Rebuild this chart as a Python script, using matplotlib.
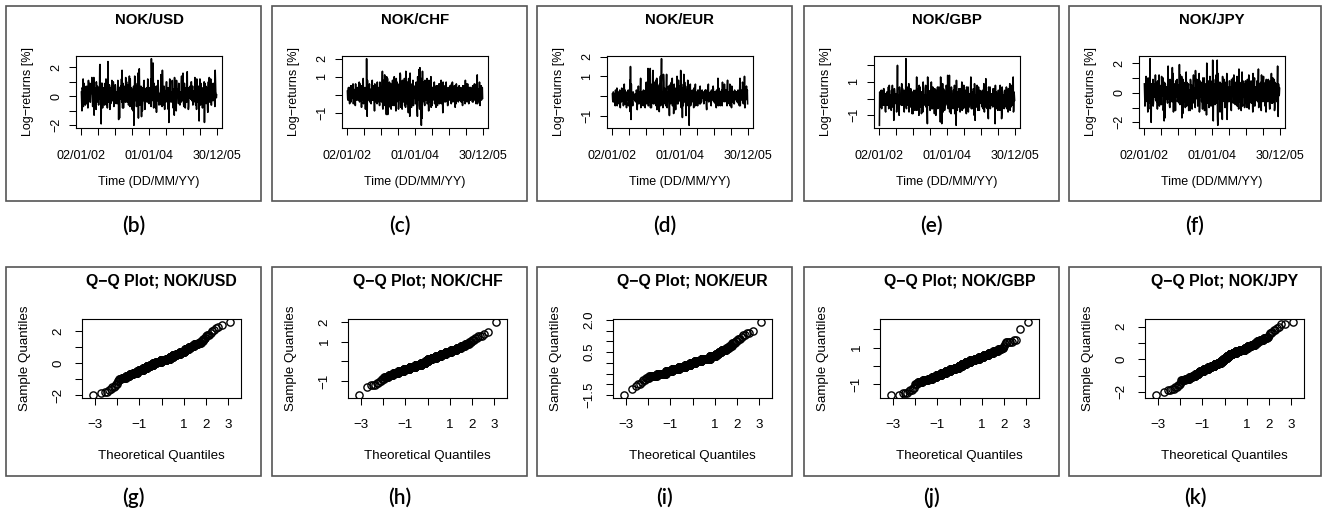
import numpy as np
import matplotlib
matplotlib.use("Agg")
import matplotlib.pyplot as plt
from matplotlib.patches import Rectangle
from statistics import NormalDist

plt.rcParams['font.family'] = ['Liberation Sans', 'DejaVu Sans']

# ---------------- data (daily log-returns in %, read/estimated from the picture) ----------------
pairs = ['NOK/USD', 'NOK/CHF', 'NOK/EUR', 'NOK/GBP', 'NOK/JPY']
top_captions = ['(b)', '(c)', '(d)', '(e)', '(f)']
bottom_captions = ['(g)', '(h)', '(i)', '(j)', '(k)']
date_labels = ['02/01/02', '', '', '', '01/01/04', '', '', '', '30/12/05']

usd = [
    0.3, -0.4, -1.0, 0.6, 0.5, -0.2, 1.2, -0.7, -0.3, 0.9, 0.1, -0.3, 0.7, -0.1, -0.6, 0.5, 0.2, -0.5, 0.0, 0.7, -0.2, 0.4, 0.4, -0.8, -0.1, 1.1, 0.1, -0.2, 0.6, 0.0, 0.9, -0.4, -0.4, 0.2, 0.2, 0.3, 0.3, 1.3, 1.0, 0.1,
    -0.7, 0.5, 0.3, -0.3, 1.3, -1.3, -0.2, 0.6, 0.1, 0.2, 0.5, -0.1, -0.9, 1.0, 0.4, -0.4, 0.0, 0.7, -0.3, 0.1, 0.6, -0.6, 0.2, 0.3, -0.1, 2.1, 2.2, -0.2, 0.2, 0.4, -1.9, 0.9, 0.7, 0.0, 0.9, -0.8, -0.4, 0.2, 0.1, 0.6,
    0.1, -0.2, -0.6, 0.4, 0.9, 0.0, 0.4, 1.2, -0.1, -0.6, 0.2, 0.5, -0.8, 0.3, 2.4, -0.4, 0.3, 0.1, -0.4, 0.8, 0.7, -0.9, 0.0, 0.2, -0.5, 0.6, 0.5, -0.1, 1.1, -0.3, -0.3, 0.7, 0.2, 1.0, 0.6, -0.7, -0.2, 0.2, 0.1, 0.1,
    0.8, 0.6, -0.2, -0.5, 0.3, 0.2, 0.1, -0.3, -0.5, 1.1, 0.0, 0.4, -1.6, 0.1, 0.4, -1.5, 0.6, -0.2, -0.1, 0.7, 0.2, 0.0, 1.2, -0.4, 1.8, 0.3, -0.8, 0.9, 0.5, -0.8, -0.3, 0.5, 0.1, 0.2, 0.7, -0.1, -0.4, 1.3, 0.2, 0.1,
    1.0, -0.3, -0.4, 0.8, 0.2, 0.1, 0.6, -0.6, -0.2, 0.5, 1.4, 0.2, -0.7, 1.2, 0.3, -0.4, 0.0, 0.6, 0.5, -0.1, -0.9, 0.3, 0.1, -1.0, 0.2, 0.7, -2.0, 0.0, 0.4, 1.4, -0.3, -0.2, 0.9, 0.4, 0.7, -0.7, -0.1, 0.2, 0.3, 0.1,
    1.6, 0.3, -1.5, -0.2, 0.3, 1.9, 0.7, -0.6, -0.1, 0.1, 0.5, 0.7, -0.6, -1.4, 0.2, 0.4, -1.0, 0.0, 0.6, -0.3, 0.0, 1.0, 1.1, 0.2, -0.4, -0.9, 0.4, 0.5, -0.3, -0.1, 0.1, 0.6, 0.2, -0.4, -0.2, 1.2, 0.9, 0.2, 0.1, 0.1,
    -0.5, 0.6, 0.4, -0.4, 0.2, 0.1, 1.2, -0.7, 2.6, 0.5, -0.3, 2.0, 0.1, -0.2, 2.3, 0.3, -0.8, 0.9, 0.6, -0.1, 0.3, 0.0, -0.1, -0.8, 0.5, 0.7, -1.1, 0.2, 0.7, -0.3, 0.0, 1.1, 0.9, 0.4, -0.2, -0.6, 0.2, 0.2, -0.4, 0.1,
    -0.3, 0.2, 1.5, -0.6, 0.1, 0.5, -0.7, 1.8, 0.7, -0.2, 0.3, 0.4, -0.6, 0.7, 0.0, -0.9, 0.4, 0.1, -0.2, -0.4, 0.6, 1.0, 1.0, 0.0, 0.2, -0.1, 0.5, 0.6, -0.9, 0.3, -1.8, -0.7, 0.8, 1.2, 0.1, 0.2, 0.3, -0.3, -0.4, 0.1,
    0.3, -0.1, 1.1, 0.7, -0.6, -0.8, 0.5, 0.2, 0.1, -1.3, 1.3, 0.6, -0.2, 0.4, 0.6, -0.3, -1.0, 1.1, 0.4, 0.0, 0.0, 0.5, 0.2, -0.2, -0.5, 0.9, 0.7, 0.1, 0.2, -0.6, -0.4, 0.3, 0.3, -0.4, 0.9, 1.4, -0.1, 0.2, -0.3, 0.1,
    1.6, 0.4, -0.5, -0.7, 0.2, 0.9, 0.4, 0.1, -0.8, -0.2, 0.1, 0.6, 0.0, -0.4, 1.5, 1.7, -0.3, 0.2, 0.6, -0.9, -0.7, 0.3, 0.3, -0.1, 0.5, 0.7, 0.2, 0.0, -0.2, 1.0, 1.0, -0.3, -0.1, 0.5, 0.7, -0.6, 0.1, 0.2, -0.4, 0.1,
    0.4, -0.2, 1.3, 0.5, -0.1, -0.6, 0.7, 0.3, -0.9, 1.2, 0.2, -0.4, 0.6, 0.1, -0.4, 0.7, 0.5, -1.7, 0.1, 0.2, 1.2, -0.1, -0.6, 0.9, 0.3, 0.0, 0.0, 0.6, -0.3, -0.8, 0.2, 0.4, -0.7, -0.3, 0.1, 1.0, -1.8, 0.2, 0.9, 0.1,
    0.2, 0.7, -0.5, -0.3, 0.6, 0.2, 0.4, -0.9, -1.1, 0.5, 1.0, 0.1, 0.0, 1.3, -0.2, -0.4, 0.7, 0.0, 1.2, 0.6, -0.6, -0.6, 0.3, 0.3, 0.5, -0.1, -0.3, 0.9, 0.1, -0.2, 0.2, 0.4, -0.4, -0.7, 1.8, 1.1, 0.3, 0.2, -0.1, 0.1,
]

chf = [
    0.2, -0.2, -0.3, 0.3, 0.4, -0.1, 0.1, -0.3, -0.5, 0.4, 0.0, 0.2, 0.5, -0.4, -0.2, 0.5, 0.3, -0.2, -0.1, 0.1, 0.6, -0.5, -0.4, 0.3, 0.1, -0.1, 0.2, 0.0, -0.6, 0.6, 0.0, -0.2, 0.3, -0.3, -0.1, 0.2, 0.4, -0.1, -0.3, 0.1,
    0.1, -0.3, 0.7, -0.4, -0.2, 0.6, 0.0, -0.1, 0.5, -0.2, -0.7, 0.5, 0.2, -0.3, -0.1, 0.2, 0.9, -0.5, -0.4, 0.4, 0.3, -0.1, 0.1, -0.2, -0.8, 0.3, 0.4, -0.6, 2.0, -0.1, -1.2, 0.8, 0.0, 0.2, 0.2, -0.2, -0.3, 0.1, 0.6, -0.4,
    -0.1, 0.2, 0.3, -0.4, -0.5, 0.3, 0.2, -0.1, 0.8, -0.3, 0.0, 0.1, -0.3, 0.5, 0.4, -0.2, -0.9, 0.6, 0.1, -0.1, 0.5, -0.4, -0.2, 0.2, 0.2, -0.5, 0.7, -0.2, -0.4, 0.4, 0.0, 0.1, 0.3, -0.2, -0.6, 0.7, 0.1, 0.0, 0.4, -0.3,
    0.2, -0.4, -0.2, 0.6, 1.3, -0.7, -0.8, 0.8, 0.4, -0.2, 0.0, 0.3, 1.1, -0.6, -0.5, 0.4, 0.3, -0.5, -1.1, 1.0, 0.1, -0.3, 0.9, -1.1, -0.3, 0.2, 0.5, -0.4, -0.1, 0.7, 0.2, -0.1, -0.7, 0.5, 0.6, -0.8, 0.0, 0.1, -0.4, 0.3,
    0.8, -0.5, -0.6, 0.7, 0.3, -0.3, 1.0, -0.6, -0.2, 0.4, 0.1, -0.2, -0.9, 0.9, 0.4, -0.4, 0.7, -0.1, -0.1, 0.5, 0.2, -0.8, -0.5, 0.6, 0.5, -0.3, 0.0, 1.2, 1.1, -0.7, -0.3, 0.2, 0.3, -0.2, -0.8, 0.8, 0.1, -0.1, 0.6, -0.4,
    -0.2, 0.3, 0.9, -0.6, 0.0, 0.5, -0.7, 1.3, 0.4, -0.3, 0.2, -0.5, -0.4, 0.7, 0.6, -0.2, -1.0, 0.9, 0.1, -0.4, 0.3, -1.2, 1.2, -0.3, -0.3, 0.4, 0.5, -0.7, -0.1, 0.6, 0.0, 0.1, 0.8, -0.4, -0.6, 0.5, 0.2, -0.2, -0.2, 0.2,
    0.4, -0.5, -0.5, 0.6, 0.7, -0.4, 0.1, -0.8, -1.2, 1.0, 0.3, -0.3, -0.1, 0.5, 1.4, -0.6, -0.8, 1.5, 0.2, -0.2, 0.5, -0.7, -1.7, 0.9, 0.0, -1.3, 1.3, -0.4, -0.3, 0.7, 0.6, -0.2, 0.1, -0.5, -0.6, 0.8, 0.3, -0.3, -0.2, 0.4,
    0.2, -0.3, 0.9, -0.5, -0.4, 0.6, 0.1, -0.2, -0.9, 0.8, 0.5, -0.4, 0.0, 0.3, -0.2, 0.5, 1.0, -0.7, 0.3, -0.1, -0.6, 0.4, 0.4, -0.3, 0.1, 0.2, -0.1, 0.6, 0.7, -0.5, -0.3, 0.3, 0.2, -0.1, -0.7, 0.5, 0.0, -0.2, 0.5, -0.6,
    -0.1, 0.3, 0.3, -0.4, 0.6, -0.2, -0.5, 0.6, 0.2, -0.3, 0.0, 0.2, 0.8, -0.5, -0.3, 0.4, 0.4, -0.1, -1.0, 0.7, 0.1, -0.2, 0.5, -0.4, -0.2, 0.3, 0.2, -0.1, -0.4, 0.5, 0.7, -0.3, 0.0, 0.1, 0.3, -0.6, -0.6, 0.4, 0.1, -0.2,
    0.3, -0.3, -0.2, 0.4, 0.5, -0.2, 0.0, 0.3, -0.5, 0.6, 0.2, -0.4, 0.7, -0.1, -0.1, 0.2, 0.1, -0.3, -0.4, 0.5, 0.4, -0.2, -0.7, 0.3, 0.2, -0.5, 0.6, -0.1, -0.3, 0.4, 0.0, -0.2, 0.3, -0.4, -0.1, 0.1, 0.5, -0.3, -0.2, 0.2,
    0.1, -0.2, 0.4, -0.4, -0.3, 0.3, 0.2, -0.1, -0.6, 0.5, 0.0, -0.3, 0.5, -0.2, -0.1, 0.4, 0.3, -0.5, 0.8, -0.3, -0.4, 0.6, 0.1, -0.1, -0.2, 0.2, 0.6, -0.4, 0.0, 0.3, -0.5, 0.4, 0.2, -0.3, 0.4, -0.2, -0.3, 0.4, 0.1, -0.1,
    -0.2, 0.3, 0.3, -0.4, 0.5, -0.2, -0.4, 0.5, 0.1, -0.3, 0.6, -0.2, -0.1, 0.4, 0.2, -0.3, -0.5, 0.6, 0.4, -0.1, 1.1, -0.5, 0.0, 0.2, -0.3, 0.3, 0.3, -0.4, 0.7, -0.2, -0.6, 0.5, 0.1, -0.1, 0.5, -0.3, -0.2, 0.4, 0.4, -0.2,
]

eur = [
    0.1, -0.2, -0.3, 0.2, 0.2, -0.3, -0.1, 0.1, 0.0, -0.4, -0.5, 0.3, 0.2, -0.1, -0.2, 0.2, 0.4, -0.5, 0.0, 0.1, -0.4, 0.2, 0.1, -0.2, -0.1, 0.1, 0.3, -0.3, -0.6, 0.2, 0.2, -0.1, -0.3, 0.4, 0.0, -0.2, -0.2, 0.0, 0.1, -0.5,
    -0.2, 0.1, 0.6, -0.4, 0.0, 0.3, -0.4, 0.1, 0.1, -0.3, -0.6, 0.2, 0.2, -0.2, -0.1, 0.0, 0.3, -0.5, -0.3, 0.2, 0.0, -0.1, 0.8, -0.8, 1.5, -0.2, -1.2, 0.6, -0.2, 0.1, 0.1, -0.3, -0.5, 0.2, 0.2, -0.1, -0.1, 0.0, 0.0, -0.2,
    0.1, -0.2, -0.3, 0.1, -0.1, 0.3, 0.2, -0.3, -0.7, 0.2, 0.0, -0.1, 0.5, -0.4, -0.2, 0.2, 0.1, -0.2, -0.4, 0.4, 0.9, -0.6, 0.0, 0.1, -0.5, 0.2, 0.2, -0.3, -0.1, 0.0, 0.3, -0.5, -0.3, 0.1, 0.1, -0.2, -0.6, 0.3, 0.0, -0.1,
    0.7, -0.4, -0.2, 0.3, 0.1, -0.3, 1.4, -0.5, -0.5, 0.6, 0.0, -0.2, -0.3, 0.5, 1.4, -0.6, 0.2, -0.1, -0.6, 0.4, 0.6, -0.3, -0.1, 1.2, 1.3, -0.4, 0.1, 0.2, -0.4, 0.7, 0.3, -0.3, -0.2, 0.5, 0.8, -0.5, 0.0, 0.9, -0.7, 0.2,
    -0.1, 0.3, 0.5, -0.4, 0.2, -0.2, -0.8, 0.6, 0.0, -0.3, 1.0, -0.5, -0.3, 0.8, 1.9, -0.4, -0.2, 0.2, 0.1, -0.6, -0.5, 1.1, 0.7, -0.2, 0.0, 0.4, -0.4, 0.1, 0.3, -0.5, -0.1, 0.6, 1.1, -0.3, -0.6, 0.2, 0.2, -0.1, -0.2, 0.5,
    0.2, -0.3, -1.0, 0.5, 0.1, -0.2, 0.6, -0.4, -0.3, 0.7, 0.0, -0.1, 0.9, -0.5, -0.2, 0.3, 0.2, -0.9, -0.5, 0.6, -0.1, 0.2, 0.3, -0.3, -0.7, 0.4, 0.1, -0.2, 0.0, 1.0, -0.4, 0.1, 0.1, -0.4, 0.8, -0.2, -0.2, 0.5, -0.1, 0.0,
    0.2, -0.3, 1.3, -0.4, -0.6, 0.6, 0.0, -0.2, -1.1, 0.4, 0.2, -0.5, -0.2, 1.1, 0.1, -0.3, 0.7, -0.1, -0.3, 0.5, 0.3, -1.0, -0.1, 0.2, 0.0, -0.4, 0.1, 0.8, -0.5, 0.1, 0.2, -0.3, -1.5, 0.4, -0.2, 0.3, 0.6, -0.5, -0.4, 0.1,
    0.1, -0.2, -0.2, 0.3, 0.2, -0.3, 0.0, 0.2, -0.6, 0.4, 0.2, -0.4, -0.1, 0.1, 0.6, -0.5, -0.3, 0.2, 0.0, -0.1, 0.1, -0.3, -0.5, 0.3, 0.3, -0.2, -0.2, 0.0, 0.1, -0.4, 0.0, 0.5, -0.4, 0.1, 0.2, -0.3, -0.1, 0.2, 0.3, -0.1,
    -0.1, 0.2, 0.2, -0.3, -0.4, 0.1, 0.2, -0.2, 0.0, 0.3, -0.2, 0.0, 0.3, -0.5, -0.7, 0.2, 0.1, -0.2, 0.0, 0.4, 0.6, -0.3, -0.3, 0.1, 0.1, -0.1, -0.1, 0.2, 0.1, -0.4, -0.5, 0.3, 0.2, -0.2, 0.0, 0.1, -0.2, 0.5, 0.3, -0.3,
    0.2, -0.1, -0.3, 0.2, 0.0, -0.4, 0.2, 0.0, -0.6, 0.3, 0.1, -0.3, -0.1, 0.1, 0.9, -0.5, -0.2, 0.4, 0.3, -0.2, 0.0, 0.2, -0.5, 0.1, 0.2, -0.3, -0.4, 0.3, 0.1, -0.5, 0.7, -0.2, -0.1, 0.2, 0.0, -0.1, -0.3, 0.6, 0.1, -0.2,
    -0.2, 0.2, 0.3, -0.3, 0.1, -0.1, -0.5, 0.4, 0.8, -0.4, 0.0, 0.2, -0.3, 0.1, 0.2, -0.2, 0.6, -0.5, -0.1, 0.3, 0.0, -0.1, -0.6, 0.5, 0.2, -0.3, 0.1, 0.0, -0.2, 0.2, 0.1, -0.4, -0.4, 0.3, 0.0, -0.2, 0.2, -0.1, -0.1, 0.2,
    0.1, -0.3, 0.2, -0.1, -0.3, 0.3, 0.0, -0.4, 0.2, -0.2, -0.5, 0.4, 0.9, -0.5, -0.1, 0.2, 0.3, -0.2, -0.2, 0.1, 0.0, 0.7, 0.6, -0.3, -0.4, 0.2, 0.1, -0.1, 1.0, -0.6, -0.6, 0.3, 0.2, -0.2, 0.0, 0.5, -0.1, 0.1, 0.3, -0.4,
]

gbp = [
    -1.6, 0.4, 0.3, -0.5, -0.2, 0.3, 0.5, -0.3, -0.6, 0.5, 0.1, -0.2, 0.0, 0.2, -0.4, 0.6, 0.6, -0.4, -0.1, 0.1, 0.2, -0.7, -0.8, 0.3, 0.0, -0.1, 0.4, -0.4, -0.3, 0.2, -0.1, 0.0, 0.7, -0.6, -0.5, 0.8, 0.1, -0.2, -0.2, 0.1,
    0.2, -0.4, -0.7, 0.5, 0.0, -0.2, 0.8, -0.5, -0.3, 0.3, 0.1, -1.3, -0.9, 0.6, 0.4, -0.3, -0.2, 0.1, 0.0, -0.1, 0.3, -0.8, -0.5, 0.4, 2.0, -0.2, -0.1, 0.2, 0.2, -0.5, -1.0, 0.7, 0.5, -0.3, -0.2, 0.0, 0.1, -0.1, -0.4, 0.9,
    0.0, -0.2, 0.6, -0.4, -0.3, 0.4, 0.1, -0.6, -0.8, 0.5, 0.3, -0.3, -0.1, 0.2, 2.4, -0.5, -0.6, 0.3, 0.2, -0.1, 0.0, 0.7, -0.4, 0.1, 0.9, -0.8, -0.2, 0.0, 0.1, -0.3, -0.5, 0.6, 0.4, -0.4, -0.1, 0.2, -0.9, 0.4, 0.2, -0.9,
    -0.3, 0.3, 0.5, -0.6, 0.0, 0.2, -0.7, 0.5, 0.3, -0.4, -0.2, 0.0, 1.3, -0.7, 0.1, 0.3, -0.5, 0.6, 0.2, -0.2, -1.0, 0.8, 0.0, -0.3, 0.7, -0.5, -0.1, 0.1, 0.4, -0.9, -0.4, 0.4, 0.1, -0.2, -0.8, 1.0, 0.6, -0.1, -0.2, 0.2,
    0.1, -0.3, -0.4, 0.6, 0.8, -0.5, -0.1, 0.2, 0.2, -0.8, -1.5, 1.3, 0.0, -0.2, 0.5, -0.4, -0.3, 0.4, 0.3, -0.7, -0.7, 0.5, 0.1, -0.1, 1.0, -0.6, -0.2, 0.3, -0.6, 0.7, 0.4, -0.3, 0.0, 0.1, -0.1, -0.9, 0.6, -0.2, -0.5, 0.2,
    -1.0, 0.5, 0.2, -0.3, -0.3, 0.4, 0.7, -0.6, 0.0, 0.1, -0.5, 0.7, 0.4, -0.2, -0.1, 0.3, -1.4, 1.3, 0.1, -0.4, 0.3, -1.5, -0.2, 0.2, 0.9, -0.5, -0.8, 0.6, 0.0, -0.1, 0.5, -0.7, -0.4, 0.4, 0.2, -0.3, -0.1, 0.8, 0.6, -0.2,
    0.0, -0.4, 1.4, -0.2, -0.6, 0.6, 0.3, -0.5, 1.4, -0.8, -0.3, 0.4, 0.1, -0.3, -0.9, 0.7, 0.5, -0.1, -0.1, 0.3, 0.2, -0.6, -0.5, 0.5, 0.0, -0.2, 0.8, -0.9, -0.2, 0.1, 0.4, -0.3, -1.6, 1.1, 0.1, -0.1, -0.7, 0.4, 0.3, -0.5,
    -0.2, 0.3, 0.6, -0.5, 0.0, 0.2, -0.8, 0.6, 0.2, -0.3, -0.4, 0.4, 1.0, -0.7, -0.1, 0.2, 0.3, -0.4, -0.6, 0.8, 0.1, -0.2, 0.5, -0.5, -0.3, 0.5, 0.0, -0.1, -0.9, 0.7, 0.4, -0.4, -0.1, 0.1, 0.7, -0.8, 0.2, -0.3, -0.5, 0.3,
    0.1, -0.2, -0.3, 0.5, 1.3, -0.4, -0.6, 0.3, 0.0, -0.6, 0.4, -0.1, -0.2, 0.6, 0.2, -0.3, -1.0, 0.9, 0.6, -1.3, -0.1, 0.2, 0.0, -0.5, -0.5, 0.4, 0.8, -0.2, 0.3, -0.7, -0.4, 0.7, 0.1, -0.4, -0.7, 0.3, 0.5, -0.1, -0.2, 0.2,
    0.0, -0.3, 0.4, -0.4, -0.5, 0.5, 0.2, -0.6, -0.1, 0.2, 0.9, -0.2, -0.8, 0.6, 0.1, -0.5, -0.3, 1.2, 0.5, -0.3, 0.0, 0.3, -0.6, 0.4, 0.3, -0.8, -1.2, 0.7, 0.1, -0.2, -0.2, 0.1, 0.7, -0.6, -0.4, 0.3, 0.2, -0.4, -0.1, 0.2,
    0.3, -0.4, -0.5, 0.6, 0.1, -0.3, -0.2, 0.4, 0.6, -0.5, -1.5, 0.8, 0.0, -0.2, 0.4, -0.6, -0.3, 0.3, 0.2, -0.1, -0.7, 0.5, 0.5, -0.4, -0.1, 0.2, 0.0, -0.7, 0.8, -0.3, -0.4, 0.5, 0.1, -1.2, -0.9, 0.7, 0.3, -0.4, -0.2, 0.1,
    0.2, -0.3, -0.6, 0.4, 0.5, -0.5, -0.1, 0.2, 0.0, -0.2, 0.7, -0.6, -0.4, 0.3, 0.1, -0.4, -0.8, 0.6, 0.3, -0.2, -0.2, 0.5, 0.9, -0.7, 0.0, 0.1, -0.5, 0.8, 0.4, -0.4, -0.3, 0.3, 0.6, -0.3, 1.3, -0.8, -0.7, 0.4, 0.2, -0.1,
]

jpy = [
    0.6, -0.3, -0.9, 0.5, 0.2, -0.6, 1.1, -0.2, -0.4, 0.7, 0.0, -0.4, -1.3, 1.0, 0.5, -0.7, -0.2, 0.4, 0.8, -0.1, 2.3, -1.1, -0.6, 0.2, -2.0, 0.6, 0.3, -0.5, -0.1, 0.3, 0.9, -0.9, -0.7, 0.6, 0.1, -0.2, 0.4, -0.1, -0.3, 1.2,
    -0.5, 0.4, 0.7, -0.6, 0.0, 0.3, -1.1, 0.8, 0.4, -0.5, -0.2, 0.2, 1.2, -0.9, -0.6, 0.5, 0.3, -0.3, 0.1, -0.7, -0.8, 1.1, 0.5, -0.2, -0.1, 0.6, 1.0, -1.2, -0.4, 0.1, -1.9, 0.7, 0.2, -1.7, 0.6, -0.1, -0.3, 0.4, 0.0, -0.4,
    0.3, -0.5, -0.7, 0.6, 1.8, -0.4, -0.2, 0.3, 0.5, -0.9, -1.0, 0.9, 0.1, -0.2, 0.8, -0.6, -0.4, 0.5, 0.0, 1.7, -0.6, 0.1, 1.3, -1.3, 0.2, -0.7, -0.3, 0.4, 0.6, -0.1, -1.2, 0.8, 0.4, -0.3, -0.1, 0.2, 0.9, -0.6, -0.5, 0.5,
    -0.2, 0.4, 0.5, -0.7, 1.9, -0.3, -0.8, 1.2, 0.1, -0.6, -0.4, 0.6, 1.1, -1.7, 0.3, -0.2, -1.4, 0.9, 0.0, -0.4, 0.7, -0.1, -0.6, 0.5, 0.2, -1.0, -0.1, 0.3, 1.4, -0.5, -0.9, 0.7, 0.4, -0.2, -0.3, 0.4, 0.6, -1.2, 0.0, 0.1,
    0.2, -0.4, -1.2, 0.9, 0.8, -0.6, -0.3, 0.5, 0.5, -1.1, 0.0, 0.3, -0.7, 0.6, 1.2, -0.5, -0.1, 0.2, 0.3, -0.7, -1.0, 1.5, 0.6, -0.3, -0.4, 0.4, 0.9, -0.2, 0.1, -0.9, -0.6, 0.6, -0.2, 0.1, 1.3, -1.3, -0.8, 0.8, 0.4, -0.1,
    -0.3, 0.5, 0.7, -0.6, 0.1, -0.3, -1.1, 1.0, 0.4, -0.7, -0.5, 0.6, 1.0, -1.2, 0.0, 0.2, -0.2, 0.4, 0.6, -0.4, -1.5, 2.0, 0.3, -0.5, -0.7, 0.6, 0.8, -0.1, 0.2, -1.0, -0.4, 0.3, 1.1, -0.6, -0.1, 0.8, -0.9, 0.2, 0.5, -0.3,
    0.0, -0.5, 2.2, -1.1, -1.9, 0.9, -0.3, 0.4, 0.6, -0.6, -0.8, 0.6, 0.4, -0.2, 1.2, -0.7, -0.5, 0.3, 2.2, -1.6, -2.2, 1.3, 0.3, -0.4, -0.1, 0.5, 0.7, -0.3, -1.3, 0.7, 0.1, -0.1, -0.6, 0.6, 0.5, -0.9, -1.8, 1.1, 0.2, -0.2,
    -0.4, 0.5, 0.9, -0.6, 0.0, 0.2, -1.0, 0.7, 0.5, -0.4, -0.2, 0.6, 1.3, -1.8, -0.7, 0.4, 0.3, -0.3, 0.1, -0.6, -0.6, 0.8, 0.8, -0.5, -0.3, 0.3, 0.4, -1.0, -1.2, 0.9, 0.6, -0.2, -0.1, 0.4, 1.0, -0.7, -0.5, 1.2, 0.2, -0.1,
    0.1, -0.3, -0.8, 0.7, 0.6, -0.5, -0.2, 0.4, 1.1, -0.9, -0.4, 0.6, 0.3, -0.2, -1.1, 1.6, 0.0, -0.6, 0.7, -0.4, -0.6, 0.5, 0.2, -1.2, -0.3, 0.3, 1.4, -0.7, -0.9, 0.8, 0.5, -0.3, -0.1, 0.6, 0.4, -1.0, -0.7, 0.2, 0.8, -0.5,
    -0.2, 0.4, 0.5, -0.6, -1.0, 0.9, 0.3, -0.4, 0.0, 0.6, 1.2, -1.1, -0.6, 0.3, 0.1, -0.3, -0.4, 0.7, 0.8, -0.7, -0.1, 0.5, 0.6, -0.2, -1.3, 1.3, 0.2, -0.5, -0.3, 0.6, 1.0, -0.9, -0.7, 0.2, 0.4, -0.4, 0.0, 0.1, -0.5, 0.8,
    0.3, -0.6, -0.4, 0.5, 1.6, -1.0, -0.8, 0.6, 0.2, -0.3, -0.1, 0.4, 0.7, -0.7, -1.2, 1.2, 0.5, -0.4, 0.0, 0.3, -0.6, 0.8, 1.1, -0.5, -0.3, 0.6, 0.4, -0.2, -0.9, 0.7, 0.1, -1.3, 0.9, -0.4, -0.2, 0.5, 0.6, -0.6, -0.5, 0.9,
    0.0, 0.4, 0.7, -0.6, -1.1, 0.8, 0.3, -0.5, -0.4, 0.6, 1.3, -0.7, 0.1, 0.3, -0.7, 1.0, 0.5, -0.3, -0.2, 0.5, 0.9, -1.2, -1.0, 0.7, 0.2, -0.4, -0.3, 0.2, 0.6, -0.6, -0.5, 0.9, 1.8, -0.9, -1.6, 0.6, 0.4, -0.2, -0.1, 0.3,
]

series = [usd, chf, eur, gbp, jpy]

ts_yticks = [[-2, -1, 0, 1, 2], [-1, 0, 1, 2], [-1, 0, 1, 2], [-1, 0, 1, 2], [-2, -1, 0, 1, 2]]
ts_ylabels = [['\u22122', '', '0', '', '2'], ['\u22121', '', '1', '2'], ['\u22121', '', '1', '2'],
              ['\u22121', '', '1', ''], ['\u22122', '', '0', '', '2']]
qq_yticks = [[-2, -1, 0, 1, 2], [-1, 0, 1, 2], [-1.5, -1.0, -0.5, 0.0, 0.5, 1.0, 1.5, 2.0],
             [-1, 0, 1, 2], [-2, -1, 0, 1, 2]]
qq_ylabels = [['\u22122', '', '0', '', '2'], ['\u22121', '', '1', '2'],
              ['\u22121.5', '', '', '', '0.5', '', '', '2.0'],
              ['\u22121', '', '1', ''], ['\u22122', '', '0', '', '2']]
qq_xticks = [-3, -2, -1, 0, 1, 2, 3]
qq_xlabels = ['\u22123', '', '\u22121', '', '1', '2', '3']

# ---------------- layout (pixels) ----------------
W, H = 1325, 515
DPI = 100
PX = 72.0 / DPI  # points per pixel
panel_left = [6, 272, 537, 804, 1069]
panel_w = [255, 255, 255, 255, 252]

fig = plt.figure(figsize=(W / DPI, H / DPI), dpi=DPI)


def px_axes(x0, y0, x1, y1):
    return fig.add_axes([x0 / W, 1 - y1 / H, (x1 - x0) / W, (y1 - y0) / H])


def box(x0, y0, x1, y1):
    fig.add_artist(Rectangle((x0 / W, 1 - y1 / H), (x1 - x0) / W, (y1 - y0) / H,
                             transform=fig.transFigure, fill=False,
                             ec='#555555', lw=1.2))


def padded(lo, hi):
    p = 0.04 * (hi - lo)
    return lo - p, hi + p


def style_axes(ax, fs, fw, fh, xpad_c, ypad_c, ylab_c, xlab_c, title_c, title, xlabel, ylabel, tfs):
    tick_len = 7
    for s in ax.spines.values():
        s.set_linewidth(0.8)
        s.set_color('black')
    fs_px = fs / PX
    xpad = (xpad_c - tick_len - 0.37 * fs_px) * PX
    ypad = (ypad_c - tick_len - 0.57 * fs_px) * PX
    ax.tick_params(axis='x', direction='out', length=tick_len * PX, width=0.75,
                   labelsize=fs, pad=xpad, colors='black')
    ax.tick_params(axis='y', direction='out', length=tick_len * PX, width=0.75,
                   labelsize=fs, pad=ypad, labelrotation=90, colors='black')
    for t in ax.get_yticklabels():
        t.set_va('center')
    ax.set_xlabel(xlabel, fontsize=fs)
    ax.set_ylabel(ylabel, fontsize=fs)
    ax.xaxis.label.set_va('center')
    ax.yaxis.label.set_va('center')
    ax.xaxis.set_label_coords(0.5, -xlab_c / fh)
    ax.yaxis.set_label_coords(-ylab_c / fw, 0.5)
    ax.set_title(title, fontsize=tfs, fontweight='bold', y=1 + title_c / fh, va='center')


caption_font = dict(fontsize=15, family=['Lato', 'DejaVu Sans'], fontweight='semibold')

# ---------------- top row: time series ----------------
for k in range(5):
    L = panel_left[k]
    box(L, 6, L + panel_w[k], 201)
    x0, y0, x1, y1 = L + 70, 56, L + 216, 128
    ax = px_axes(x0, y0, x1, y1)
    y = np.array(series[k])
    n = len(y)
    x = np.arange(n)
    ax.plot(x, y, color='black', lw=1.15)
    ax.set_xlim(*padded(0, n - 1))
    ax.set_ylim(*padded(y.min(), y.max()))
    ax.set_xticks(np.linspace(0, n - 1, 9))
    ax.set_xticklabels(date_labels)
    ax.set_yticks(ts_yticks[k])
    ax.set_yticklabels(ts_ylabels[k])
    style_axes(ax, 9.0, x1 - x0, y1 - y0, 26.7, 21, 47.7, 54, 27.5,
               pairs[k], 'Time (DD/MM/YY)', 'Log\u2212returns [%]', 10.8)
    fig.text((L + panel_w[k] / 2) / W, 1 - 226 / H, top_captions[k],
             ha='center', va='center', **caption_font)

# ---------------- bottom row: normal Q-Q plots ----------------
nd = NormalDist()
for k in range(5):
    L = panel_left[k]
    box(L, 267, L + panel_w[k], 476)
    x0, y0, x1, y1 = L + 76, 319, L + 235, 398
    ax = px_axes(x0, y0, x1, y1)
    y = np.sort(np.array(series[k]))
    n = len(y)
    theo = np.array([nd.inv_cdf((i + 0.5) / n) for i in range(n)])
    ax.plot(theo, y, linestyle='none', marker='o', mfc='none', mec='black',
            ms=5.2, mew=1.0)
    ax.set_xlim(-3.58, 3.58)
    ax.set_ylim(*padded(y.min(), y.max()))
    ax.set_xticks(qq_xticks)
    ax.set_xticklabels(qq_xlabels)
    ax.set_yticks(qq_yticks[k])
    ax.set_yticklabels(qq_ylabels[k])
    style_axes(ax, 9.6, x1 - x0, y1 - y0, 26, 25, 57, 58, 29,
               'Q\u2212Q Plot; ' + pairs[k], 'Theoretical Quantiles', 'Sample Quantiles', 11.4)
    fig.text((L + panel_w[k] / 2) / W, 1 - 498 / H, bottom_captions[k],
             ha='center', va='center', **caption_font)

fig.savefig('out.png', dpi=DPI)
